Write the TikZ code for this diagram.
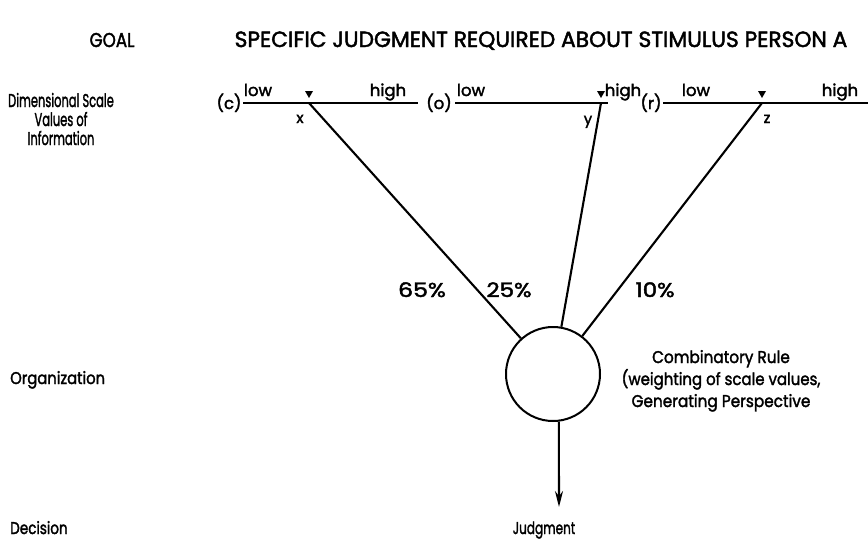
\documentclass[tikz,border=0pt]{standalone}
\usepackage{fontspec}
\setmainfont{Poppins}[FakeBold=2]
\usetikzlibrary{arrows.meta}
% horizontal squeeze/stretch of a piece of text
\newcommand{\hsq}[2]{\scalebox{#1}[1]{#2}}
\begin{document}
\begin{tikzpicture}[x=1pt,y=-1pt,
  txt/.style={inner sep=0pt, anchor=base, font=\fontsize{17}{17}\selectfont},
  stage/.style={txt, anchor=base west},
  scalelbl/.style={txt, font=\fontsize{16.5}{18}\selectfont},
  pct/.style={txt, font=\fontsize{20}{22}\selectfont},
  scalebar/.style={line width=2.8pt},
  link/.style={line width=2.1pt},
  marker/.style={fill=black},
  hub/.style={circle, draw, line width=2pt, minimum size=94pt, inner sep=0pt}]
\useasboundingbox[fill=white] (0,0) rectangle (868,552);

% row headings
\node[txt, font=\fontsize{20}{20}\selectfont] (goal) at (112,47) {\hsq{0.84}{GOAL}};
\node[txt, font=\fontsize{22}{24}\selectfont] (title) at (541,47) {\hsq{0.99}{SPECIFIC JUDGMENT REQUIRED ABOUT STIMULUS PERSON A}};
\node[txt, align=center, font=\fontsize{18.5}{19}\selectfont] (dim) at (61,145)
  {\hsq{0.62}{Dimensional Scale}\\\hsq{0.62}{Values of}\\\hsq{0.62}{Information}};
\node[stage] (org) at (10,384) {\hsq{0.87}{Organization}};
\node[stage] (dec) at (10,534) {\hsq{0.8}{Decision}};

% three scales
\node[scalelbl] (cl) at (229,109) {(c)};
\node[scalelbl] (lowc) at (258,96) {low};
\node[scalelbl] (highc) at (388,96) {high};
\draw[scalebar] (243,103) -- (418,103);
\coordinate (x) at (309,103);
\fill[marker] (309,98) -- (305,91) -- (313,91) -- cycle;
\node[txt, font=\fontsize{15}{17}\selectfont] (xl) at (300,123) {x};

\node[scalelbl] (ol) at (439,109) {(o)};
\node[scalelbl] (lowo) at (471,96) {low};
\node[scalelbl] (higho) at (623,96) {high};
\draw[scalebar] (455,103) -- (608,103);
\coordinate (y) at (601,103);
\fill[marker] (601,98) -- (597,91) -- (605,91) -- cycle;
\node[txt, font=\fontsize{15}{17}\selectfont] (yl) at (588,124) {y};

\node[scalelbl] (rl) at (651,109) {(r)};
\node[scalelbl] (lowr) at (696,96) {low};
\node[scalelbl] (highr) at (840,96) {high};
\draw[scalebar] (663,103) -- (868,103);
\coordinate (z) at (762,103);
\fill[marker] (762,98) -- (758,91) -- (766,91) -- cycle;
\node[txt, font=\fontsize{15}{17}\selectfont] (zl) at (767,123) {z};

% combining node and weights
\node[hub] (rule) at (553,374) {};
\draw[link] (x) -- (rule);
\draw[link] (y) -- (rule);
\draw[link] (z) -- (rule);
\node[pct] (w1) at (422,297) {\hsq{1.18}{65\%}};
\node[pct] (w2) at (509,297) {\hsq{1.15}{25\%}};
\node[pct] (w3) at (655,297) {\hsq{1.15}{10\%}};

\node[txt, align=center, font=\fontsize{17}{22}\selectfont] (crule) at (721,407)
  {\hsq{0.9}{Combinatory Rule}\\\hsq{0.88}{(weighting of scale values,}\\\hsq{0.9}{Generating Perspective}};

% output
\coordinate (tip) at (559,507);
\draw[link, -{Stealth[length=16pt,width=8pt]}] (rule.-83) -- (tip);
\node[txt] (judg) at (544,534) {\hsq{0.71}{Judgment}};
\end{tikzpicture}
\end{document}
